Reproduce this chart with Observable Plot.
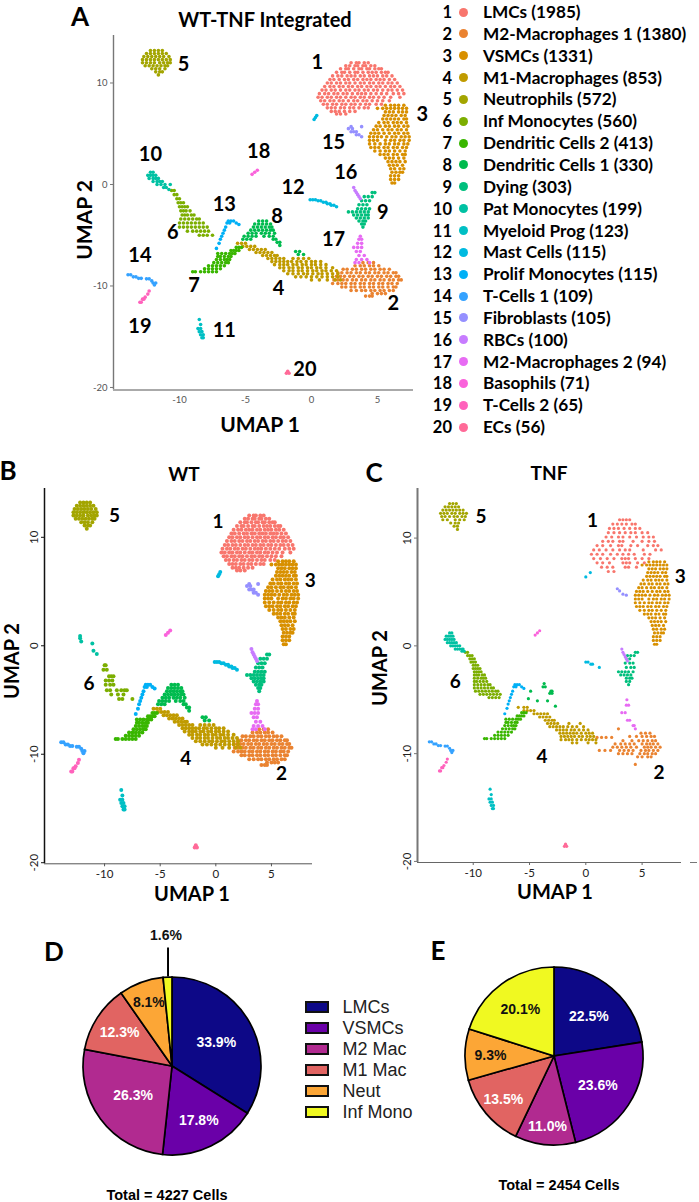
<!DOCTYPE html>
<html><head><meta charset="utf-8">
<script src="https://cdn.jsdelivr.net/npm/d3@7"></script>
<script src="https://cdn.jsdelivr.net/npm/@observablehq/plot@0.6"></script>
<style>
html,body{margin:0;padding:0;background:#fff}
#page{position:relative;width:699px;height:1202px;overflow:hidden;font-family:Lato,sans-serif;color:#000}
#page svg{position:absolute;background:transparent;overflow:visible}
.t{position:absolute;white-space:nowrap;transform:translate(-50%,-50%);line-height:1}
</style></head><body><div id="page"></div>
<script>
// Cluster legend
const clusterNames=["LMCs (1985)","M2-Macrophages 1 (1380)","VSMCs (1331)","M1-Macrophages (853)","Neutrophils (572)","Inf Monocytes (560)","Dendritic Cells 2 (413)","Dendritic Cells 1 (330)","Dying (303)","Pat Monocytes (199)","Myeloid Prog (123)","Mast Cells (115)","Prolif Monocytes (115)","T-Cells 1 (109)","Fibroblasts (105)","RBCs (100)","M2-Macrophages 2 (94)","Basophils (71)","T-Cells 2 (65)","ECs (56)"];
const clusterColors=["#F8766D","#EA8331","#D89000","#C09B00","#A3A500","#7CAE00","#39B600","#00BB4E","#00BF7D","#00C1A3","#00BFC4","#00BAE0","#00B0F6","#35A2FF","#9590FF","#C77CFF","#E76BF3","#FA62DB","#FF62BC","#FF6A98"];

// UMAP points: [umap2,[umap1...]]
const lmc=[[12,[3,3.4,3.6,4,4.3]],[11.7,[2.6,2.9,3.3,3.5,3.9,4.1,4.5,4.8]],[11.4,[2.2,2.6,2.8,3.2,3.6,3.8,4.2,4.4,4.8,5.1,5.3]],[11.05,[1.9,2.3,2.5,2.9,3.3,3.5,3.9,4.3,4.6,4.9,5.3,5.6,5.8]],[10.7,[1.6,2,2.3,2.7,3,3.3,3.7,4,4.4,4.7,5,5.4,5.7,6.1]],[10.35,[1.4,1.7,2.1,2.5,2.8,3.2,3.5,3.9,4.2,4.5,4.9,5.2,5.5,5.9,6.3]],[10,[1.2,1.5,1.9,2.2,2.6,2.9,3.3,3.7,4,4.4,4.7,5.1,5.4,5.8,6.1,6.5]],[9.65,[1,1.4,1.7,2.1,2.4,2.8,3.1,3.5,3.8,4.2,4.5,4.9,5.2,5.6,6,6.3,6.7]],[9.3,[.8,1.1,1.5,1.8,2.2,2.6,2.9,3.3,3.6,4,4.3,4.7,5,5.4,5.8,6.1,6.5,6.9]],[8.95,[.6,1,1.3,1.7,2,2.4,2.7,3.1,3.5,3.8,4.1,4.5,4.9,5.3,5.7,6.2,6.6,7]],[8.6,[.5,.8,1.2,1.5,1.9,2.2,2.6,3,3.3,3.7,4,4.4,4.7,5.1,5.5,6,6.7]],[8.25,[.7,1,1.4,1.7,2.1,2.4,2.8,3.2,3.5,3.9,4.2,4.6,5,5.4,5.9]],[7.9,[.9,1.2,1.6,1.9,2.3,2.6,3,3.3,3.7,4.1,4.4,4.9,5.3]],[7.55,[1.2,1.5,1.8,2.2,2.5,2.9,3.2,3.6,4,4.3]],[7.2,[1.5,1.8,2.1,2.5,2.9,3.3]],[6.95,[1.9,2.2,2.6]]];
const vsmc=[[7.8,[5.6,6,6.3,6.6,7]],[7.5,[5,5.4,5.7,6,6.3,6.6,6.9,7.2]],[7.15,[5.6,5.9,6.2,6.6,6.9,7.2]],[6.8,[5.5,5.8,6.1,6.4,6.8,7.1]],[6.45,[5.4,5.7,6,6.3,6.6,7,7.2]],[6.1,[5.1,5.5,5.8,6.2,6.5,6.8,7.2]],[5.75,[4.9,5.2,5.6,5.9,6.3,6.6,7,7.3]],[5.4,[4.7,5,5.4,5.8,6.1,6.5,6.8,7.2]],[5.05,[4.5,4.8,5.1,5.5,5.9,6.3,6.6,7,7.3]],[4.7,[4.4,4.7,5,5.3,5.7,6.1,6.4,6.8,7.1,7.4]],[4.35,[4.4,4.7,5,5.6,6,6.3,6.7,7,7.4]],[4,[4.4,4.8,5.2,5.6,5.9,6.3,6.6,7,7.3]],[3.65,[4.5,4.8,5.1,5.5,5.8,6.2,6.5,6.9,7.2]],[3.3,[4.8,5.2,5.6,5.9,6.3,6.7,7.1]],[2.95,[5.2,5.5,5.8,6.2,6.5,6.9,7.1]],[2.6,[5.6,5.9,6.2,6.6,7]],[2.25,[5.8,6.1,6.4,6.7,7.1]],[1.9,[5.9,6.2,6.5,6.9]],[1.55,[6,6.3,6.7,7]],[1.2,[6.1,6.4,6.7,6.9]],[.85,[6,6.3,6.6]],[.5,[6,6.3,6.6]],[.15,[6.1,6.3]]];
const m2=[[-7.7,[3.9,4.3,4.7]],[-8,[3.3,3.7,4,4.4,4.7,5.1]],[-8.35,[2.4,2.7,3.1,3.4,3.8,4.1,4.5,4.8,5.2,5.5,5.9]],[-8.7,[2,2.3,2.7,3,3.4,3.7,4.1,4.4,4.8,5.1,5.5,5.8,6.2,6.4]],[-9.05,[1.9,2.2,2.5,2.9,3.2,3.6,3.9,4.3,4.6,5,5.3,5.7,6,6.4,6.6]],[-9.4,[1.7,2,2.4,2.7,3.1,3.4,3.8,4.1,4.5,4.8,5.2,5.5,5.9,6.2,6.6,6.8]],[-9.75,[1.6,2,2.3,2.6,3,3.3,3.7,4,4.4,4.7,5.1,5.4,5.8,6.1,6.5]],[-10.1,[2.3,2.6,3,3.3,3.7,4,4.4,4.7,5.1,5.4,5.8,6.2,6.4]],[-10.45,[3,3.4,3.8,4.1,4.5,4.8,5.2,5.5,5.9,6.2]],[-10.75,[4.6,5,5.3,5.6]],[-11,[4.1,4.4,4.6]]];
const m1=[[-5.8,[-5.6,-5.3,-5]],[-6.1,[-5.2,-4.9,-4.6,-4.3]],[-6.4,[-4.7,-4.4,-4.1,-3.8,-3.5]],[-6.7,[-4.2,-3.9,-3.6,-3.3,-3]],[-7,[-3.7,-3.4,-3.1,-2.8,-2.6]],[-7.3,[-3.3,-3,-2.7,-2.4,-2.1,-1.4,-1,-.6,-.2]],[-7.6,[-3,-2.7,-2.4,-2.1,-1.8,-1.5,-1.1,-.8,-.4,0,.3,.7]],[-7.9,[-2.8,-2.4,-2.1,-1.8,-1.4,-1.1,-.7,-.4,0,.3,.7,1.1]],[-8.2,[-2.4,-2.1,-1.7,-1.4,-1,-.7,-.3,0,.4,.7,1.1,1.6]],[-8.5,[-2.1,-1.7,-1.4,-1,-.7,-.3,.1,.4,.8,1.1,1.5,1.9]],[-8.8,[-1.8,-1.4,-1,-.6,-.3,.1,.5,.8,1.2,1.6,2]],[-9.1,[-1.2,-.8,-.4,0,.4,.8,1.2,1.6,2]],[-9.4,[0,.6,1.2,1.8,2.2]]];
const neut=[[13.2,[-12.2,-11.9,-11.6,-11.3]],[12.9,[-12.5,-12.2,-11.9,-11.6,-11.3,-11]],[12.6,[-12.7,-12.4,-12.1,-11.8,-11.5,-11.2,-10.8]],[12.3,[-12.8,-12.5,-12.2,-11.9,-11.6,-11.3,-11,-10.7]],[12,[-12.8,-12.5,-12.2,-11.9,-11.5,-11.2,-10.9,-10.7]],[11.7,[-12.6,-12.3,-12,-11.7,-11.4,-11.1,-10.9]],[11.4,[-12.1,-11.8,-11.5,-11.1]],[11.1,[-11.8,-11.5,-11.3]],[10.8,[-11.6]]];
const infMono=[[-.6,[-10.6,-10.4]],[-1,[-10.4,-10.2]],[-1.4,[-10.2,-10]],[-1.8,[-10.1,-9.9,-9.7]],[-2.2,[-10,-9.8,-9.6,-9.4]],[-2.6,[-9.9,-9.7,-9.5,-9.2]],[-3,[-9.8,-9.6,-9.4,-9.1,-8.9]],[-3.4,[-9.9,-9.6,-9.3,-9,-8.7,-8.5]],[-3.8,[-10,-9.7,-9.4,-9.1,-8.8,-8.5,-8.2]],[-4.2,[-10,-9.7,-9.4,-9.1,-8.8,-8.5,-8.2,-7.9]],[-4.6,[-9.4,-9,-8.7,-8.4,-8.1,-7.8]],[-5,[-8.5,-8.2,-7.9,-7.5]]];
const patMono=[[1.2,[-12.2,-12]],[.9,[-12.4,-12.2,-12,-11.8]],[.6,[-12.3,-12,-11.8,-11.6]],[.3,[-12,-11.7,-11.5,-11.3]],[0,[-11.7,-11.4,-11.1,-10.7]],[-.3,[-11.2,-11]],[-.5,[-10.8]]];
const dc2=[[-6.2,[-5.7,-5.5,-5.3]],[-6.5,[-6.1,-5.9,-5.7,-5.5]],[-6.8,[-7.1,-6.8,-6.5,-6.2,-6,-5.8]],[-7.1,[-7.1,-6.9,-6.6,-6.3,-6.1]],[-7.4,[-7.2,-6.9,-6.6,-6.4,-6.2]],[-7.7,[-7.4,-7.1,-6.8,-6.5,-6.3]],[-8,[-7.8,-7.5,-7.2,-6.9,-6.6]],[-8.3,[-8.1,-7.8,-7.5,-7.2,-6.9]],[-8.6,[-9,-8.8,-8.4,-8.1,-7.8,-7.5,-7.2]]];
const dc1=[[-3.6,[-4,-3.7,-3.4]],[-3.9,[-4.3,-4,-3.7,-3.4,-3.1]],[-4.2,[-4.4,-4.1,-3.8,-3.5,-3.2,-3]],[-4.5,[-4.6,-4.3,-4,-3.7,-3.4,-3.1,-2.9]],[-4.8,[-4.8,-4.5,-4.2,-3.8,-3.5,-3.2,-2.8]],[-5.1,[-5.1,-4.8,-4.5,-4.2,-3.6,-3.2,-2.9]],[-5.4,[-5.2,-4.9,-4.6,-2.9,-2.7]],[-5.7,[-2.6,-2.4]],[-6,[-2.4]],[-6.6,[-1.2,-.9]],[-6.9,[-1,-.6]]];
const dying=[[-.8,[4.6,4.8]],[-1.2,[4,4.3,4.6]],[-1.6,[3.8,4.1,4.4]],[-2,[3.6,3.9,4.2]],[-2.4,[3.5,3.8,4.1,4.4]],[-2.7,[2.8,3.1,3.4,3.7,4,4.3]],[-3,[3.2,3.5,3.8,4.1,4.3]],[-3.3,[3.4,3.7,4,4.3]],[-3.6,[3.6,3.9,4.1]],[-3.9,[3.8,4]],[-4.2,[3.9]]];
const myeloid=[[-13.3,[-8.5]],[-13.8,[-8.4]],[-14.2,[-8.6,-8.4]],[-14.5,[-8.5,-8.3]],[-14.8,[-8.4,-8.2]],[-15.1,[-8.3,-8.2]]];
const mast=[[6.8,[.4]],[6.6,[.3]],[6.4,[.2]],[-1.5,[-.1,.1,.3]],[-1.6,[.5,.7]],[-1.75,[.9,1.1]],[-1.9,[1.2,1.4]],[-2.05,[1.5,1.7]],[-2.2,[1.9]]];
const prolif=[[-3.6,[-6.3,-6.1,-5.9]],[-3.8,[-6.4,-6.2,-5.7]],[-3.95,[-5.5]],[-4.2,[-6.5]],[-4.5,[-6.6]],[-4.8,[-6.7]],[-5.1,[-6.8]],[-5.4,[-6.9]],[-5.8,[-7]],[-6.3,[-7.2]]];
const tcell1=[[-8.9,[-13.9,-13.7]],[-9.1,[-13.5,-13.3]],[-9.25,[-13.1,-12.9]],[-9.3,[-12.5,-12.3]],[-9.5,[-12.1]],[-9.7,[-11.8,-12]],[-9.9,[-11.9]]];
const fibro=[[5.7,[3.8,3]],[5.5,[2.8,3.1]],[5.2,[3,3.2,3.4]],[4.9,[3.4,3.6]],[4.7,[3.8]]];
const rbc=[[-.3,[3.2]],[-.6,[3.3]],[-.8,[3.4]],[-1,[3.5]],[-1.2,[3.6]],[-1.4,[3.7]]];
const m2b=[[-5.1,[3.7]],[-5.4,[3.6,3.8]],[-5.8,[3.5,3.8]],[-6.2,[3.2,3.5,3.8]],[-6.6,[3.4,3.7]],[-7,[3.6,4]],[-7.4,[3.4,3.8,4.2]],[-7.7,[3.3,3.6,4.4]]];
const baso=[[1,[-4.5]],[1.2,[-4.3]],[1.4,[-4.1]]];
const tcell2=[[-11.6,[-13,-12.9]],[-11.3,[-12.8,-12.7]],[-11.1,[-12.6]],[-10.8,[-12.4]],[-10.5,[-12.3]]];
const ecs=[[-18.4,[-1.8]],[-18.6,[-1.9,-1.7]]];

// WT-only and TNF-only shapes that differ from the integrated map
const infMonoWT=[[-1.8,[-10,-9.9]],[-2.2,[-10.1,-9.8]],[-2.8,[-9.6,-9.4,-9.2]],[-3.2,[-9.9,-9.6,-9.3]],[-3.6,[-9.9,-9.5,-9.2]],[-4.1,[-9.8,-9.5,-8.9,-8.5,-8.2,-8]],[-4.5,[-9.4,-8.8,-8.3]],[-4.9,[-8.7,-8.4,-7.5]]];
const patMonoWT=[[.9,[-12.2]],[.7,[-12.2]],[.4,[-12.1]],[.2,[-11.1]],[-.45,[-11]],[-.75,[-10.7]]];
const lmcTNF=[[11.7,[3,3.3,3.6,3.9]],[11.3,[2.4,2.8,3.2,3.6,4.1,4.4]],[10.9,[2.1,2.5,2.9,3.4,3.9,4.4,4.8]],[10.5,[2,2.5,3,3.5,4,4.4,5,5.5]],[10.1,[1.8,2.3,2.9,3.3,3.9,4.5,5.1,5.6,6]],[9.7,[1.5,2,2.4,3,3.3,4.2,5,5.6,6.1]],[9.3,[1,1.5,2.2,2.9,3.2,4,4.6,5.5,6,6.4]],[8.9,[.7,1.2,1.8,2.4,3,3.5,3.9,5.1,6.2,6.7]],[8.5,[.5,1,1.5,2.2,2.8,3.3,3.8,4.3,5.2,5.7]],[8.1,[.7,1.3,1.9,2.5,3.2,3.5,3.8,4.4,5,5.6]],[7.7,[1,1.5,2.1,3.3,3.6,3.9,4.6,5.2]],[7.3,[1.4,1.9,2.4,3.5,3.8,4.5]],[6.9,[2,2.5]]];
const m2TNF=[[-8.1,[4.9,5.3,5.7]],[-8.4,[3.9,4.5,5,5.4,5.8,6.1]],[-8.5,[1,1.4,1.8,2.3]],[-8.8,[3.3,4.1,4.7,5.1,5.5,5.9,6.2]],[-9.1,[2.6,3.1,3.5,3.9,4.3,5,5.4,5.7,6,6.4]],[-9.4,[2.4,2.8,3.2,3.6,4,4.5,5.2,5.5,5.8,6.2,6.6]],[-9.7,[1.2,1.7,2.2,3,3.4,3.8,4.2,4.9,5.3,5.6,6,6.4]],[-10,[2.9,3.3,3.7,4.1,4.8,5.2,5.5,5.9,6.2]],[-10.3,[4.6,5,5.5,5.8]],[-11,[4.4]],[-7.7,[2.9]]];
const m1TNF=[[-5.7,[-6,-5.5,-5.2]],[-6,[-5.5,-5.2,-4.9,-4.6]],[-6.3,[-4.6,-4.3,-4,-3.7,-3.4]],[-6.6,[-4.1,-3.8,-3.5,-3.2]],[-6.9,[-3.6,-3.3,-3,-2.8]],[-7.2,[-3.4,-3.1,-2.8,-2.5,-1.5,-.5]],[-7.5,[-3.2,-2.9,-2.6,-2.3,-2,-1.6,-1.2,-.8,-.2]],[-7.8,[-2.6,-2.3,-2,-1.7,-1.3,-1,-.6,-.2,.2]],[-8.1,[-2.3,-2,-1.7,-1.4,-1.1,-.8,-.4,0,.3,.6]],[-8.4,[-2.2,-1.9,-1.6,-1.3,-1,-.6,-.3,.1,.4,.7]],[-8.7,[-2.2,-1.8,-1.5,-1.2,-.8,-.4,0,.3,.6,.9]],[-9,[-1.2,-.8,.2,.9]]];
const neutTNF=[[13.2,[-12.1,-11.8,-11.5]],[12.9,[-12.5,-12.2,-11.9,-11.6,-11.3]],[12.6,[-12.7,-12.4,-12.1,-11.8,-11.5,-11.2,-10.9]],[12.3,[-12.9,-12.6,-12.3,-11.9,-11.6,-11.2,-10.9,-10.6]],[12,[-12.8,-12.5,-12.1,-11.7,-11.4,-11,-10.7]],[11.7,[-12.7,-12.3,-11.6,-11.2,-10.8]],[11.4,[-12,-11.6,-11.3]],[11.1,[-11.7,-11.4]],[10.8,[-11.4]]];
const infMonoTNF=[[-.6,[-10.7,-10.5]],[-.9,[-10.5,-10.3,-10.1]],[-1.2,[-10.3,-10.1,-9.9]],[-1.5,[-10.2,-10,-9.8]],[-1.8,[-10,-9.8,-9.6]],[-2.1,[-10,-9.8,-9.6,-9.4]],[-2.4,[-9.9,-9.7,-9.5,-9.3]],[-2.7,[-9.9,-9.7,-9.5,-9.2,-9]],[-3,[-9.9,-9.6,-9.3,-9.1,-8.9]],[-3.3,[-9.9,-9.7,-9.4,-9.1,-8.8]],[-3.6,[-9.9,-9.6,-9.3,-9,-8.7,-8.5]],[-3.9,[-9.9,-9.6,-9.3,-9,-8.7,-8.4,-8.2]],[-4.2,[-9.8,-9.5,-9.2,-8.9,-8.6,-8.3,-8,-7.8]],[-4.5,[-9.4,-9.1,-8.8,-8.5,-8.2,-7.9,-7.6]],[-4.8,[-8.6,-8.3,-8,-7.7]]];
const patMonoTNF=[[1.2,[-12.1,-11.9]],[.9,[-12.4,-12.2,-12,-11.8]],[.6,[-12.5,-12.3,-12.1,-11.9,-11.7]],[.3,[-12.3,-12.1,-11.9,-11.7,-11.5]],[0,[-12,-11.8,-11.6,-11.4,-11.2]],[-.3,[-11.6,-11.4,-11.2,-11,-10.9]],[-.5,[-11,-10.8]]];
const dyingTNF=[[-.6,[4.4,4.6]],[-.9,[3.7,4,4.3]],[-1.2,[3.6,3.9]],[-1.6,[3.5,3.9,4.2]],[-2,[3.6,4,4.3]],[-2.4,[2.9,3.2,3.5,3.8,4.2]],[-2.7,[3.1,3.4,3.7,4]],[-3,[3.6,3.9,4.1]],[-3.3,[3.6,3.9]],[-3.6,[3.8]]];
const dc1TNF=[[-3.5,[-3.7]],[-3.8,[-3.8,-3.6]],[-4.2,[-4.9,-3.1,-3]],[-4.4,[-3.2,-3]],[-4.9,[-5.1]],[-5.1,[-4.3,-3.4]],[-5.6,[-2.7]]];
const mastTNF=[[6.8,[.4]],[6.4,[0]],[-1.5,[0,.2]],[-1.7,[.45,.6]],[-2,[1.2]]];
const m2bTNF=[[-5,[3.65]],[-5.5,[3.6,3.8]],[-6.2,[3.2,3.5]],[-6.9,[3.7,3.9]],[-7.4,[4.2,4.3]],[-7.7,[4.4]]];
const fibroTNF=[[5.3,[2.8]],[5.1,[3]],[4.8,[3.3]],[4.7,[3.6]]];

// Cluster numbers placed on the maps
const labelsA=[["5",-9.7,11.8],["1",.45,12],["3",8.4,6.9],["15",1.67,4.1],["18",-4,3.2],["10",-12.2,2.9],["16",2.6,1.2],["12",-1.4,-.3],["13",-6.6,-2],["8",-2.6,-3.2],["9",5.4,-2.8],["17",1.67,-5.4],["6",-10.5,-4.7],["14",-13,-7],["7",-8.9,-10],["4",-2.5,-10.3],["2",6.2,-11.7],["19",-13,-14],["11",-6.6,-14.4],["20",-.5,-18.2]];
const labelsB=[["5",-9.1,12],["1",.2,11.4],["3",8.5,5.95],["6",-11.4,-3.5],["4",-2.7,-10.4],["2",5.9,-11.8]];
const labelsC=[["5",-9.3,12],["1",.6,11.6],["3",8.4,6.4],["6",-11.6,-3.3],["4",-3.9,-10.3],["2",6.5,-11.8]];
const ticksX=[-10,-5,0,5], ticksY=[-20,-10,0,10];

// Pies
const pieNames=["LMCs","VSMCs","M2 Mac","M1 Mac","Neut","Inf Mono"];
const pieColors=["#0D0887","#6A00A8","#B12A90","#E16462","#FCA636","#F0F921"];
const pieInk=["#fff","#fff","#fff","#fff","#111","#111"];
const pieD=[33.9,17.8,26.3,12.3,8.1,1.6], pieDLabelR=[50,60,49,63,68,131];
const pieE=[22.5,23.6,11.0,13.5,9.3,20.1], pieELabelR=[53,52,70,67,64,58];

const page=document.getElementById("page");
const pts=(c,rows)=>rows.flatMap(([y,xs])=>xs.map(x=>({c,x,y})));
const sets=list=>list.flatMap(([c,rows])=>pts(c,rows));
const place=(el,l,t)=>{el.style.left=l+"px";el.style.top=t+"px";page.appendChild(el);};
function text(s,x,y,size,o={}){const d=document.createElement("div");d.className="t";d.textContent=s;
  d.style.left=x+"px";d.style.top=y+"px";d.style.fontSize=size+"px";d.style.fontWeight=o.w||700;d.style.fontFamily=o.f||"Lato";
  if(o.rot)d.style.transform="translate(-50%,-50%) rotate(-90deg)";page.appendChild(d);}

const dataA=sets([[1,lmc],[2,m2],[3,vsmc],[4,m1],[5,neut],[6,infMono],[7,dc2],[8,dc1],[9,dying],[10,patMono],[11,myeloid],[12,mast],[13,prolif],[14,tcell1],[15,fibro],[16,rbc],[17,m2b],[18,baso],[19,tcell2],[20,ecs]]);
const dataB=sets([[1,lmc],[2,m2],[3,vsmc],[4,m1],[5,neut],[6,infMonoWT],[7,dc2],[8,dc1],[9,dying],[10,patMonoWT],[11,myeloid],[12,mast],[13,prolif],[14,tcell1],[15,fibro],[16,rbc],[17,m2b],[18,baso],[19,tcell2],[20,ecs]]);
const dataC=sets([[1,lmcTNF],[2,m2TNF],[3,vsmc],[4,m1TNF],[5,neutTNF],[6,infMonoTNF],[7,dc2],[8,dc1TNF],[9,dyingTNF],[10,patMonoTNF],[11,myeloid],[12,mastTNF],[13,prolif],[14,tcell1],[15,fibroTNF],[16,rbc],[17,m2bTNF],[18,baso],[19,tcell2],[20,ecs]]);

function umap(o){
  const p=Plot.plot({width:o.w,height:o.h,marginLeft:o.ml,marginTop:o.mt,marginRight:o.mr,marginBottom:o.mb,
    style:{fontFamily:"Lato",background:"transparent"},
    x:{domain:o.xd,label:null},y:{domain:o.yd,label:null},
    color:{type:"ordinal",domain:d3.range(1,21),range:clusterColors},
    marks:[
      Plot.dot(o.data,{x:"x",y:"y",fill:"c",r:o.r,stroke:"none"}),
      Plot.ruleX([o.xd[0]],{stroke:o.lc,strokeWidth:o.lw}),
      Plot.ruleY([o.yd[0]],{stroke:o.bc,strokeWidth:o.bw}),
      Plot.axisX({ticks:ticksX,tickSize:o.rot?3:0,tickPadding:o.tp,label:null,fontSize:o.fs,fill:o.tc,stroke:o.bc,tickFormat:d=>d}),
      Plot.axisY({ticks:ticksY,tickSize:3,tickPadding:o.tpy,label:null,fontSize:o.fs,fill:o.tc,stroke:o.lc,tickRotate:o.rot?-90:0,tickFormat:d=>d}),
      Plot.text(o.labels,{x:d=>d[1],y:d=>d[2],text:d=>d[0],fontSize:o.ls,fontWeight:700,fill:"#000"})
    ]});
  place(p,o.l,o.t);
}
umap({l:0,t:0,w:440,h:440,ml:113,mt:35,mr:27,mb:50.5,xd:[-15,7.73],yd:[-20.25,14.68],data:dataA,labels:labelsA,r:1.8,lc:"#777",lw:1.4,bc:"#aaa",bw:2,fs:9.5,tc:"#555",tp:6,tpy:3,rot:false,ls:20});
umap({l:0,t:460,w:340,h:440,ml:44,mt:28,mr:28,mb:36.7,xd:[-15.4,8.69],yd:[-20.1,14.5],data:dataB,labels:labelsB,r:2,lc:"#111",lw:1.5,bc:"#555",bw:1,fs:11.5,tc:"#222",tp:3,tpy:4,rot:true,ls:19});
umap({l:340,t:460,w:359,h:440,ml:77,mt:28,mr:18,mb:38,xd:[-14.95,8.5],yd:[-20.1,14.6],data:dataC,labels:labelsC,r:1.6,lc:"#777",lw:2,bc:"#666",bw:1,fs:11.5,tc:"#222",tp:3,tpy:4,rot:true,ls:19});

// Titles and axis names
text("A",80,16,26);text("WT-TNF Integrated",265,19,20);text("UMAP 1",260,423,21);text("UMAP 2",83,220,21,{rot:1});
text("B",8,470,26);text("WT",184,473,19);text("UMAP 1",192,893,20);text("UMAP 2",11,661,20,{rot:1});
text("C",374,472,26);text("TNF",549,472,19);text("UMAP 1",555,891,20);text("UMAP 2",379,668,20,{rot:1});
text("D",54,951,26);text("E",438,950,26);
const dash=document.createElement("div");dash.style.cssText="position:absolute;left:690px;top:862px;width:7px;height:1px;background:#777";page.appendChild(dash);

// Cluster legend
clusterNames.forEach((n,i)=>{const y=12+i*21.85;
  const num=document.createElement("div");num.textContent=i+1;num.style.cssText=`position:absolute;right:${699-452}px;top:${y}px;transform:translateY(-50%);font:700 16.5px Lato;line-height:1`;page.appendChild(num);
  const dot=document.createElement("div");dot.style.cssText=`position:absolute;left:458.5px;top:${y-4.5}px;width:9px;height:9px;border-radius:50%;background:${clusterColors[i]}`;page.appendChild(dot);
  const lab=document.createElement("div");lab.textContent=n;lab.style.cssText=`position:absolute;left:483px;top:${y}px;transform:translateY(-50%);font:700 17.2px Lato;line-height:1;white-space:nowrap`;page.appendChild(lab);
});

// Pie charts
function pie(vals,labelR,cx,cy,extra){
  const S=140,R=89;
  const arcs=d3.pie().sort(null).value(d=>d)(vals);
  const mid=a=>(a.startAngle+a.endAngle)/2;
  const labels=arcs.map((a,i)=>({t:vals[i].toFixed(1)+"%",x:Math.sin(mid(a))*labelR[i],y:-Math.cos(mid(a))*labelR[i],ink:labelR[i]>R?"#111":pieInk[i]}));
  const marks=[
    (idx,s)=>{const g=d3.create("svg:g").attr("transform",`translate(${s.x(0)},${s.y(0)})`);
      const path=d3.arc().innerRadius(0).outerRadius(R*(s.x(1)-s.x(0)));
      arcs.forEach((a,i)=>g.append("path").attr("d",path(a)).attr("fill",pieColors[i]).attr("stroke","#000").attr("stroke-width",1.7));
      return g.node();},
    Plot.text(labels,{x:"x",y:"y",text:"t",fill:"ink",fontSize:14,fontWeight:700,fontFamily:"Liberation Sans"})
  ];
  if(extra){const a=arcs[5];const lx=Math.sin(mid(a))*R;marks.push(Plot.link([{a:-R-1,b:-R-30}],{x1:()=>lx,x2:()=>lx,y1:"a",y2:"b",stroke:"#000",strokeWidth:2}));}
  const p=Plot.plot({width:2*S,height:2*S,margin:0,x:{domain:[-S,S],axis:null},y:{domain:[-S,S],range:[0,2*S],axis:null},style:{background:"transparent"},marks});
  place(p,cx-S,cy-S);
}
pie(pieD,pieDLabelR,171.7,1065.7,true);
pie(pieE,pieELabelR,554,1056,false);
text("Total = 4227 Cells",167,1194.5,14.5,{f:"Liberation Sans"});
text("Total = 2454 Cells",559,1185,14.5,{f:"Liberation Sans"});

// Pie legend
pieNames.forEach((n,i)=>{const y=1006.7+i*21;
  const sw=document.createElement("div");sw.style.cssText=`position:absolute;left:305px;top:${y-5.5}px;width:20px;height:8px;border:2px solid #111;background:${pieColors[i]}`;page.appendChild(sw);
  const lab=document.createElement("div");lab.textContent=n;lab.style.cssText=`position:absolute;left:342.5px;top:${y}px;transform:translateY(-50%);font:400 18px 'Liberation Sans';line-height:1;color:#222;white-space:nowrap`;page.appendChild(lab);
});
</script></body></html>
